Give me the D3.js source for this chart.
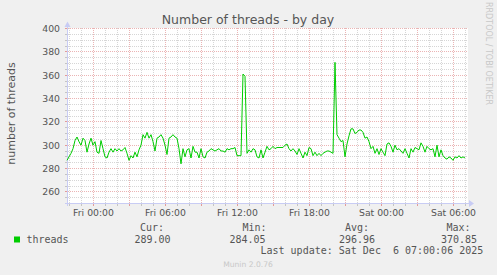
<!DOCTYPE html>
<html>
<head>
<meta charset="utf-8">
<script src="https://cdn.jsdelivr.net/npm/d3@7"></script>
<style>
body { margin: 0; background: #f0f0f0; }
svg { display: block; }
text { fill: #555; }
.mono { font-family: "DejaVu Sans Mono", monospace; font-size: 10px; white-space: pre; }
</style>
</head>
<body>
<svg id="chart" width="497" height="275"></svg>
<script>
// samples every 10 minutes, starting Thu 21:50
var startTime = new Date(2025, 11, 4, 21, 50);
var endTime = new Date(2025, 11, 6, 7, 10);
var stepMinutes = 10;

var threads = [
  287,290,293,297,304,307,303,300,306,304,
  294,301,306,300,303,294,293,304,297,290,
  289,294,297,294,297,295,297,295,296,298,
  293,287,291,289,294,290,296,300,309,306,
  311,306,309,303,295,306,307,309,306,300,
  292,306,307,309,307,306,297,284,297,290,
  296,297,289,299,294,294,289,297,290,289,
  294,295,297,296,295,296,297,295,295,294,
  297,296,297,297,298,291,291,291,361,359,
  293,296,294,297,296,290,289,296,289,294,
  299,296,297,299,297,298,298,298,298,300,
  301,297,295,297,295,292,297,293,289,294,
  291,298,297,291,294,291,293,291,293,294,
  295,295,294,293,371,309,306,303,304,290,
  301,308,314,314,310,311,313,313,311,306,
  307,303,297,299,293,297,292,297,294,291,
  301,302,299,294,300,296,297,295,293,297,
  293,289,297,294,298,297,296,302,299,294,
  299,297,296,297,290,300,290,296,291,289,
  288,290,289,287,290,289,291,289,290,289
];

var yTicks = [260, 280, 300, 320, 340, 360, 380, 400];
// tick positions in minutes after startTime
var xTickMinutes = [130, 490, 850, 1210, 1570, 1930];
var xTickLabels = ["Fri 00:00", "Fri 06:00", "Fri 12:00", "Fri 18:00", "Sat 00:00", "Sat 06:00"];

var seriesName = "threads";
var statHeads = ["Cur:", "Min:", "Avg:", "Max:"];
var statValues = ["289.00", "284.05", "296.96", "370.85"];
var lastUpdate = "Last update: Sat Dec  6 07:00:06 2025";

var svg = d3.select("#chart");
var plotLeft = 67, plotRight = 467, plotTop = 28, plotBottom = 203;

function at(minutes) { return new Date(startTime.getTime() + minutes * 60000); }

var x = d3.scaleTime().domain([startTime, endTime]).range([plotLeft, plotRight]);
var y = d3.scaleLinear().domain([250, 400]).range([plotBottom + 0.5, plotTop + 0.5]);

// dotted patterns (1px on, 1px off)
var defs = svg.append("defs");
function dotPattern(id, w, h, color) {
  defs.append("pattern").attr("id", id)
    .attr("patternUnits", "userSpaceOnUse")
    .attr("width", w).attr("height", h)
    .append("rect").attr("width", 1).attr("height", 1).attr("fill", color);
}
dotPattern("hMinor", 2, 1, "#d6d6d6");
dotPattern("hMajor", 2, 1, "#ebb4b4");
dotPattern("vMinor", 1, 2, "#d6d6d6");
dotPattern("vMajor", 1, 2, "#ebb4b4");

// white canvas
svg.append("rect")
  .attr("x", plotLeft).attr("y", plotTop)
  .attr("width", plotRight - plotLeft + 1).attr("height", plotBottom - plotTop + 1)
  .attr("fill", "#fff");

var grid = svg.append("g").attr("shape-rendering", "crispEdges");

// horizontal grid, minor every 5, major every 20
d3.range(255, 401, 5).forEach(function(v) {
  var major = v % 20 === 0;
  var row = Math.floor(y(v));
  grid.append("rect")
    .attr("x", plotLeft).attr("y", row).attr("width", plotRight - plotLeft + 1).attr("height", 1)
    .attr("fill", major ? "url(#hMajor)" : "url(#hMinor)");
  grid.append("rect")
    .attr("x", plotLeft - 2).attr("y", row).attr("width", 2).attr("height", 1)
    .attr("fill", major ? "#e39a9a" : "#c4c4c4");
});

// vertical grid, minor every hour, major every 3 hours (first full hour is 22:00)
d3.range(0, 34).forEach(function(k) {
  var hour = (22 + k) % 24;
  var major = hour % 3 === 0;
  var col = Math.round(x(at(10 + 60 * k)));
  grid.append("rect")
    .attr("x", col).attr("y", plotTop).attr("width", 1).attr("height", plotBottom - plotTop)
    .attr("fill", major ? "url(#vMajor)" : "url(#vMinor)");
  grid.append("rect")
    .attr("x", col).attr("y", plotBottom).attr("width", 1).attr("height", 3)
    .attr("fill", major ? "#e39a9a" : "#c4c4c4");
});

// axes lines + arrows
grid.append("rect")
  .attr("x", plotLeft).attr("y", 25).attr("width", 1).attr("height", plotBottom - 25 + 3)
  .attr("fill", "#c8ccf4");
grid.append("rect")
  .attr("x", plotLeft - 2).attr("y", plotBottom).attr("width", plotRight - plotLeft + 6).attr("height", 1)
  .attr("fill", "#c8ccf4");
svg.append("path")
  .attr("d", "M" + (plotLeft - 2.5) + ",27 L" + (plotLeft + 0.5) + ",21.5 L" + (plotLeft + 3.5) + ",27 Z")
  .attr("fill", "#c8ccf4");
svg.append("path")
  .attr("d", "M" + (plotRight + 2) + "," + (plotBottom - 3) + " L" + (plotRight + 7) + "," + (plotBottom + 0.5) + " L" + (plotRight + 2) + "," + (plotBottom + 4) + " Z")
  .attr("fill", "#c8ccf4");

// data line
var line = d3.line()
  .x(function(d, i) { return x(at(i * stepMinutes)); })
  .y(function(d) { return y(d); });

svg.append("path")
  .datum(threads)
  .attr("d", line)
  .attr("fill", "none")
  .attr("stroke", "#00cc00")
  .attr("stroke-width", 1);

// tick labels
var yAxis = svg.append("g")
  .attr("transform", "translate(" + plotLeft + ",0)")
  .call(d3.axisLeft(y).tickValues(yTicks).tickSize(0).tickPadding(7));
yAxis.select(".domain").remove();
yAxis.selectAll("line").remove();
yAxis.selectAll("text")
  .attr("font-family", "DejaVu Sans").attr("font-size", 9.3).style("fill", "#555");

var xAxis = svg.append("g")
  .attr("transform", "translate(0," + (plotBottom + 0.5) + ")")
  .call(d3.axisBottom(x).tickValues(xTickMinutes.map(at))
    .tickFormat(function(d, i) { return xTickLabels[i]; })
    .tickSize(0).tickPadding(5.6));
xAxis.select(".domain").remove();
xAxis.selectAll("line").remove();
xAxis.selectAll("text")
  .attr("font-family", "DejaVu Sans").attr("font-size", 9.3).style("fill", "#555");

// title
svg.append("text")
  .attr("x", 248).attr("y", 24)
  .attr("text-anchor", "middle")
  .attr("font-family", "DejaVu Sans").attr("font-size", 12.5)
  .text("Number of threads - by day");

// y axis title
svg.append("text")
  .attr("transform", "translate(15,113.5) rotate(-90)")
  .attr("text-anchor", "middle")
  .attr("font-family", "DejaVu Sans").attr("font-size", 11)
  .text("number of threads");

// rrdtool watermark
svg.append("text")
  .attr("transform", "translate(485.5,53.5) rotate(90)")
  .attr("text-anchor", "middle")
  .attr("font-family", "DejaVu Sans").attr("font-size", 8)
  .style("fill", "#c8c8c8")
  .text("RRDTOOL / TOBI OETIKER");

// legend
svg.append("rect")
  .attr("x", 14).attr("y", 236.5).attr("width", 6).attr("height", 6)
  .attr("fill", "#00cc00");
svg.append("text").attr("class", "mono")
  .attr("x", 26.5).attr("y", 242.5).text(seriesName);

var headX = [140, 242.5, 345, 446.5];
var valX = [134.5, 229.5, 339, 441];
statHeads.forEach(function(h, i) {
  svg.append("text").attr("class", "mono")
    .attr("x", headX[i]).attr("y", 231).text(h);
  svg.append("text").attr("class", "mono")
    .attr("x", valX[i]).attr("y", 242.5).text(statValues[i]);
});

svg.append("text").attr("class", "mono")
  .attr("x", 260.5).attr("y", 254).text(lastUpdate);

svg.append("text")
  .attr("x", 248).attr("y", 267)
  .attr("text-anchor", "middle")
  .attr("font-family", "DejaVu Sans").attr("font-size", 7.6)
  .style("fill", "#c8c8c8")
  .text("Munin 2.0.76");
</script>
</body>
</html>
